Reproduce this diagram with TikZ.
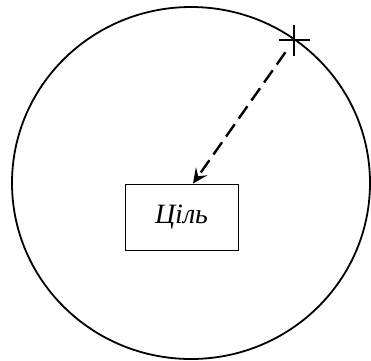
\documentclass[tikz,border=0pt]{standalone}
\usepackage{fontspec}
\setmainfont{Liberation Serif}
\usetikzlibrary{arrows.meta}

\begin{document}
\begin{tikzpicture}[x=1pt, y=-1pt,
  zone/.style={line width=1.8},
  goalbox/.style={draw, line width=0.9, minimum width=113pt, minimum height=66pt, font=\fontsize{28}{32}\selectfont\itshape},
  marker line/.style={line width=1.6},
  approach/.style={line width=2.4, dash pattern=on 15pt off 7pt, shorten <=15pt,
    -{Stealth[length=15pt, width=14pt, inset=6pt]}}]

  \pgfmathsetmacro{\cx}{191};
  \pgfmathsetmacro{\cy}{183};

  \useasboundingbox (0,0) rectangle (371,360);

  % zone around the goal
  \draw[zone] (\cx, \cy) ellipse [x radius=179, y radius=176];

  \node[goalbox] (goal) at (181.5, 217) {Ціль};

  % start point
  \coordinate (start) at (294, 40);
  \draw[marker line] ([xshift=-15pt]start) -- ([xshift=16pt]start);
  \draw[marker line] ([yshift=15pt]start) -- ([yshift=-16pt]start);

  \draw[approach] (start) -- ([xshift=11.5pt]goal.north);

\end{tikzpicture}
\end{document}
